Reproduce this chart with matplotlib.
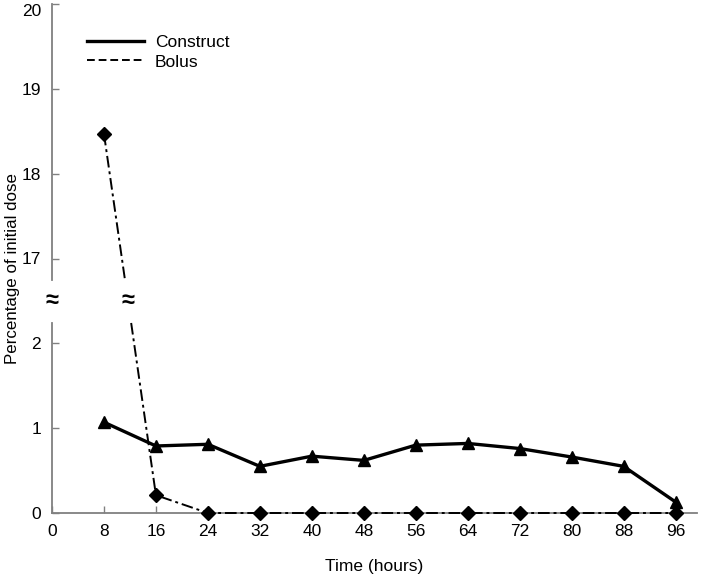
import numpy as np
import matplotlib.pyplot as plt
from matplotlib.lines import Line2D

plt.rcParams['font.family'] = ['Liberation Sans', 'DejaVu Sans']

#data (hours, percent of initial dose)
hours = [8, 16, 24, 32, 40, 48, 56, 64, 72, 80, 88, 96]
construct = [1.07, 0.79, 0.81, 0.55, 0.67, 0.62, 0.80, 0.82, 0.76, 0.66, 0.55, 0.13]
bolus = [18.47, 0.21, 0, 0, 0, 0, 0, 0, 0, 0, 0, 0]

xticks = list(range(0, 97, 8))
ytick_vals = [0, 1, 2, 17, 18, 19, 20]

#broken axis: values above the break are shifted down by 14
lo_top = 2.24
hi_bot = 2.75
shift = 14


def fwd(v):
    v = np.asarray(v, dtype=float)
    return np.where(v > 2.5, v - shift, v)


def split_gap(x, y):
    #insert a gap where a segment crosses the break
    xs, ys = [x[0]], [y[0]]
    for i in range(1, len(x)):
        y0, y1 = y[i - 1], y[i]
        if (y0 > hi_bot and y1 < lo_top) or (y1 > hi_bot and y0 < lo_top):
            for yy in sorted([hi_bot, lo_top], reverse=(y0 > y1)):
                t = (yy - y0) / (y1 - y0)
                xs.append(x[i - 1] + t * (x[i] - x[i - 1]))
                ys.append(yy)
            #put nan between the two break points
            xs.insert(-1, np.nan)
            ys.insert(-1, np.nan)
        xs.append(x[i])
        ys.append(y[i])
    return np.array(xs), np.array(ys)


fig = plt.figure(figsize=(7.02, 5.74), dpi=100)
ax = fig.add_axes([52 / 702, 1 - 513 / 574, 645 / 702, 509 / 574])

grey = '#808080'
fs = 12.5

bx, by = split_gap(hours, fwd(bolus))
ax.plot(bx, by, color='black', lw=1.4, ls=(0, (6, 2, 1.5, 2)), zorder=3,
        clip_on=False)
ax.plot(hours, fwd(bolus), ls='none', marker='D', ms=7, color='black',
        clip_on=False, zorder=4)

ax.plot(hours, construct, color='black', lw=2.4, marker='^', ms=9,
        clip_on=False, zorder=5)

ax.set_xlim(0, 99.3)
ax.set_ylim(0, 6)

for s in ['top', 'right']:
    ax.spines[s].set_visible(False)
ax.spines['bottom'].set_color(grey)
ax.spines['left'].set_color(grey)
ax.spines['bottom'].set_linewidth(1.3)
ax.spines['left'].set_linewidth(1.3)
ax.spines['left'].set_bounds(hi_bot, 6)
ax.plot([0, 0], [0, lo_top], color=grey, lw=1.3, clip_on=False, zorder=1)

ax.set_xticks(xticks)
ax.set_yticks(fwd(ytick_vals))
ax.set_yticklabels([str(v) for v in ytick_vals])
ax.tick_params(direction='in', length=5, width=1, color=grey,
               labelsize=fs, pad=8)
#top label sits just under the tick like in the original
ax.get_yticklabels()[-1].set_va('top')

#break marks
ax.text(0, 2.5, '≈', ha='center', va='center', fontsize=17,
        fontweight='bold', clip_on=False)
bi = np.where(np.isnan(bx))[0][0]
ax.text((bx[bi - 1] + bx[bi + 1]) / 2, 2.5, '≈', ha='center', va='center',
        fontsize=17, fontweight='bold')

ax.set_xlabel('Time (hours)', fontsize=fs, labelpad=14)
ax.set_ylabel('Percentage of initial dose', fontsize=12.2)
ax.yaxis.set_label_coords(-0.05, 0.48)

handles = [Line2D([], [], color='black', lw=2.4),
           Line2D([], [], color='black', lw=1.4, ls=(0, (4, 2)))]
ax.legend(handles, ['Construct', 'Bolus'], loc='upper left',
          bbox_to_anchor=(0.03, 0.97), frameon=False, fontsize=fs,
          handlelength=3.3, handletextpad=0.6, labelspacing=0.25)

fig.savefig('out.png', dpi=100)
